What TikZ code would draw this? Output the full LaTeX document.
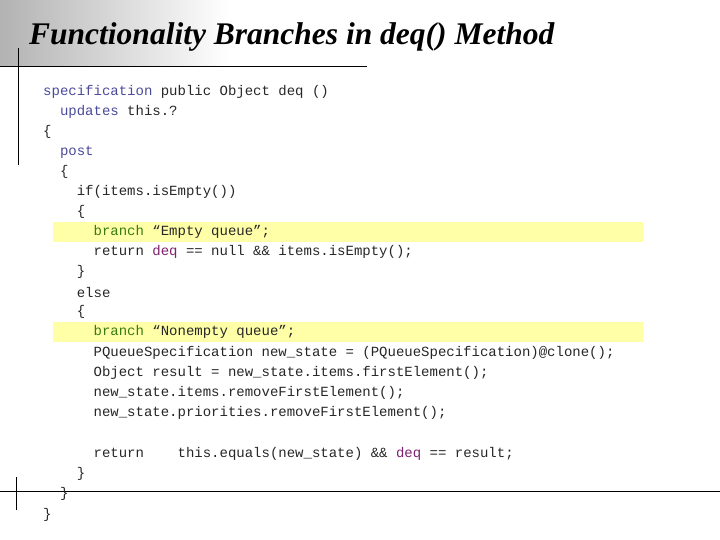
\documentclass[tikz,border=0pt]{standalone}
\usepackage{fontspec}
\setmainfont{Liberation Serif}
\newfontfamily\codefont{Liberation Mono}
\definecolor{kw}{HTML}{4A4A9A}
\definecolor{br}{HTML}{3A7A10}
\definecolor{dq}{HTML}{7F1F6F}
\definecolor{hl}{HTML}{FFFFA8}
\begin{document}
\begin{tikzpicture}[x=1pt,y=-1pt,
  code/.style={anchor=west,inner sep=0pt,font=\codefont\fontsize{14}{15}\selectfont,text=black!85},
  rule/.style={line width=0.8pt,black}]
\useasboundingbox (0,0) rectangle (720,540);
\shade[left color=black!30,right color=white] (0,0) rectangle (230,66);
\node[anchor=base west,inner sep=0pt,font=\fontsize{31.5}{32}\selectfont\bfseries\itshape] (title) at (29,45) {Functionality Branches in deq() Method};
\draw[rule] (0,66) -- (367,66);
\draw[rule] (18,48) -- (18,165);
\fill[hl] (53,222) rectangle (643,242);
\fill[hl] (53,322) rectangle (643,342);
\draw[rule] (0,491) -- (720,491);
\draw[rule] (16,477) -- (16,510);
\node[code] (l1) at (43,92) {\textcolor{kw}{specification} public Object deq ()};
\node[code] (l2) at (43,112) {\ \ \textcolor{kw}{updates} this.?};
\node[code] (l3) at (43,132) {\{};
\node[code] (l4) at (43,152) {\ \ \textcolor{kw}{post}};
\node[code] (l5) at (43,172) {\ \ \{};
\node[code] (l6) at (43,192) {\ \ \ \ if(items.isEmpty())};
\node[code] (l7) at (43,212) {\ \ \ \ \{};
\node[code] (l8) at (43,232) {\ \ \ \ \ \ \textcolor{br}{branch} “Empty queue”;};
\node[code] (l9) at (43,252) {\ \ \ \ \ \ return \textcolor{dq}{deq} == null \&\& items.isEmpty();};
\node[code] (l10) at (43,272) {\ \ \ \ \}};
\node[code] (l11) at (43,292) {\ \ \ \ else};
\node[code] (l12) at (43,312) {\ \ \ \ \{};
\node[code] (l13) at (43,332) {\ \ \ \ \ \ \textcolor{br}{branch} “Nonempty queue”;};
\node[code] (l14) at (43,353) {\ \ \ \ \ \ PQueueSpecification new\_state = (PQueueSpecification)@clone();};
\node[code] (l15) at (43,373) {\ \ \ \ \ \ Object result = new\_state.items.firstElement();};
\node[code] (l16) at (43,393) {\ \ \ \ \ \ new\_state.items.removeFirstElement();};
\node[code] (l17) at (43,413) {\ \ \ \ \ \ new\_state.priorities.removeFirstElement();};
\node[code] (l18) at (43,454) {\ \ \ \ \ \ return\ \ \ \ this.equals(new\_state) \&\& \textcolor{dq}{deq} == result;};
\node[code] (l19) at (43,474) {\ \ \ \ \}};
\node[code] (l20) at (43,494) {\ \ \}};
\node[code] (l21) at (43,515) {\}};
\end{tikzpicture}
\end{document}
